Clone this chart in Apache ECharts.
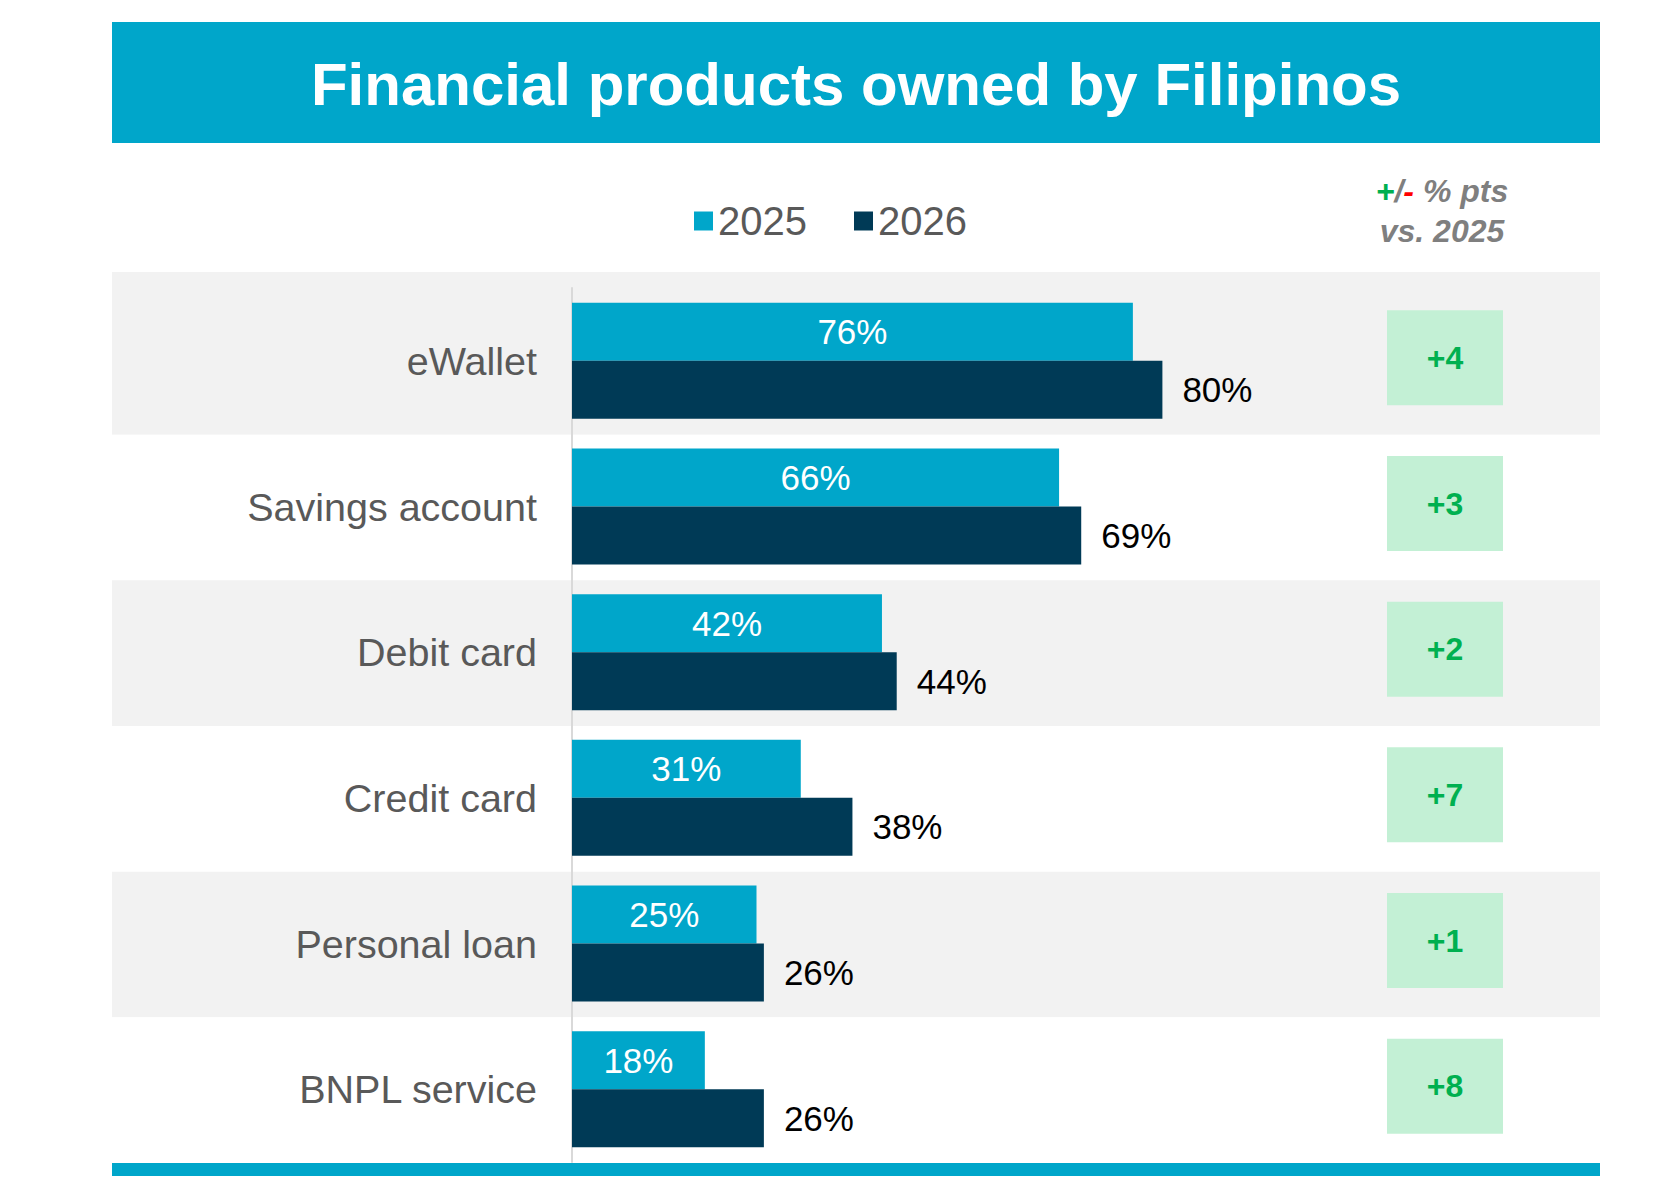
<!DOCTYPE html>
<html>
<head>
<meta charset="utf-8">
<script src="https://cdn.jsdelivr.net/npm/echarts@6/dist/echarts.min.js"></script>
<style>
  html, body { margin: 0; padding: 0; background: #ffffff; }
  #chart { width: 1667px; height: 1200px; }
</style>
</head>
<body>
<div id="chart"></div>
<script>
// ---- data ----
const titleText = 'Financial products owned by Filipinos';
const categories = ['eWallet', 'Savings account', 'Debit card', 'Credit card', 'Personal loan', 'BNPL service'];
const seriesNames = ['2025', '2026'];
const values2025 = [76, 66, 42, 31, 25, 18];
const values2026 = [80, 69, 44, 38, 26, 26];
const deltas = [4, 3, 2, 7, 1, 8];

// ---- styles ----
const FONT = 'Arial, "Liberation Sans", Helvetica, sans-serif';
const CYAN = '#00a6ca';
const NAVY = '#003a56';
const GREY_TXT = '#595959';
const BAND = '#f2f2f2';

const chart = echarts.init(document.getElementById('chart'), null, { renderer: 'svg' });

const option = {
  backgroundColor: '#ffffff',
  animation: false,
  textStyle: { fontFamily: FONT },
  title: {
    text: titleText,
    left: 856,
    top: 54,
    textAlign: 'center',
    padding: 0,
    textStyle: { color: '#ffffff', fontSize: 60, fontWeight: 'bold', fontFamily: FONT, lineHeight: 60 },
    z: 10
  },
  legend: {
    data: seriesNames,
    left: 694,
    top: 199,
    padding: 0,
    icon: 'rect',
    itemWidth: 19,
    itemHeight: 19,
    itemGap: 47,
    textStyle: { color: GREY_TXT, fontSize: 40, fontFamily: FONT, lineHeight: 44 }
  },
  graphic: [
    { type: 'rect', shape: { x: 112, y: 22, width: 1488, height: 121 }, style: { fill: CYAN }, z: -1, silent: true },
    { type: 'rect', shape: { x: 112, y: 272, width: 1488, height: 17 }, style: { fill: BAND }, z: -1, silent: true },
    { type: 'rect', shape: { x: 112, y: 1163, width: 1488, height: 13 }, style: { fill: CYAN }, z: 5, silent: true },
    {
      type: 'text', x: 1442, y: 211, silent: true,
      style: {
        text: '{g|+}{t|/}{r|-}{t| % pts}\n{t|vs. 2025}',
        align: 'center', verticalAlign: 'middle',
        rich: {
          g: { fill: '#00b050', fontSize: 32, fontWeight: 'bold', fontStyle: 'italic', fontFamily: FONT, lineHeight: 40 },
          r: { fill: '#ff0000', fontSize: 32, fontWeight: 'bold', fontStyle: 'italic', fontFamily: FONT, lineHeight: 40 },
          t: { fill: '#7f7f7f', fontSize: 32, fontWeight: 'bold', fontStyle: 'italic', fontFamily: FONT, lineHeight: 40 }
        }
      }
    }
  ],
  grid: [
    { left: 112, width: 1488, top: 289, height: 874, containLabel: false },
    { left: 572, width: 738, top: 288, height: 874, containLabel: false },
    { left: 1387, width: 116, top: 285, height: 874, containLabel: false }
  ],
  xAxis: [
    { gridIndex: 0, type: 'value', min: 0, max: 1, show: false },
    { gridIndex: 1, type: 'value', min: 0, max: 100, show: false },
    { gridIndex: 2, type: 'value', min: 0, max: 1, show: false }
  ],
  yAxis: [
    {
      gridIndex: 0, type: 'category', data: categories, inverse: true,
      axisLine: { show: false }, axisTick: { show: false }, axisLabel: { show: false },
      splitLine: { show: false },
      splitArea: { show: true, areaStyle: { color: [BAND, '#ffffff'] } },
      z: 0
    },
    {
      gridIndex: 1, type: 'category', data: categories, inverse: true,
      axisLine: { show: true, lineStyle: { color: '#d9d9d9', width: 2 } },
      axisTick: { show: false },
      axisLabel: { color: GREY_TXT, fontSize: 39.5, fontFamily: FONT, margin: 35 },
      splitLine: { show: false }
    },
    {
      gridIndex: 2, type: 'category', data: categories, inverse: true, show: false
    }
  ],
  series: [
    {
      name: seriesNames[0], type: 'bar', xAxisIndex: 1, yAxisIndex: 1,
      data: values2025, barWidth: 58, barGap: '0%',
      itemStyle: { color: CYAN },
      label: { show: true, position: 'inside', color: '#ffffff', fontSize: 35, fontFamily: FONT, formatter: '{c}%' },
      z: 3
    },
    {
      name: seriesNames[1], type: 'bar', xAxisIndex: 1, yAxisIndex: 1,
      data: values2026, barWidth: 58, barGap: '0%',
      itemStyle: { color: NAVY },
      label: { show: true, position: 'right', distance: 20, color: '#000000', fontSize: 35, fontFamily: FONT, formatter: '{c}%' },
      z: 3
    },
    {
      name: 'delta', type: 'bar', xAxisIndex: 2, yAxisIndex: 2,
      data: deltas.map(d => ({ value: 1, delta: d })),
      barWidth: 95,
      itemStyle: { color: '#c3f0d5' },
      label: {
        show: true, position: 'inside', color: '#00b050', fontSize: 32, fontWeight: 'bold', fontFamily: FONT,
        formatter: p => (p.data.delta >= 0 ? '+' : '') + p.data.delta
      },
      z: 3
    }
  ]
};

chart.setOption(option);
</script>
</body>
</html>
